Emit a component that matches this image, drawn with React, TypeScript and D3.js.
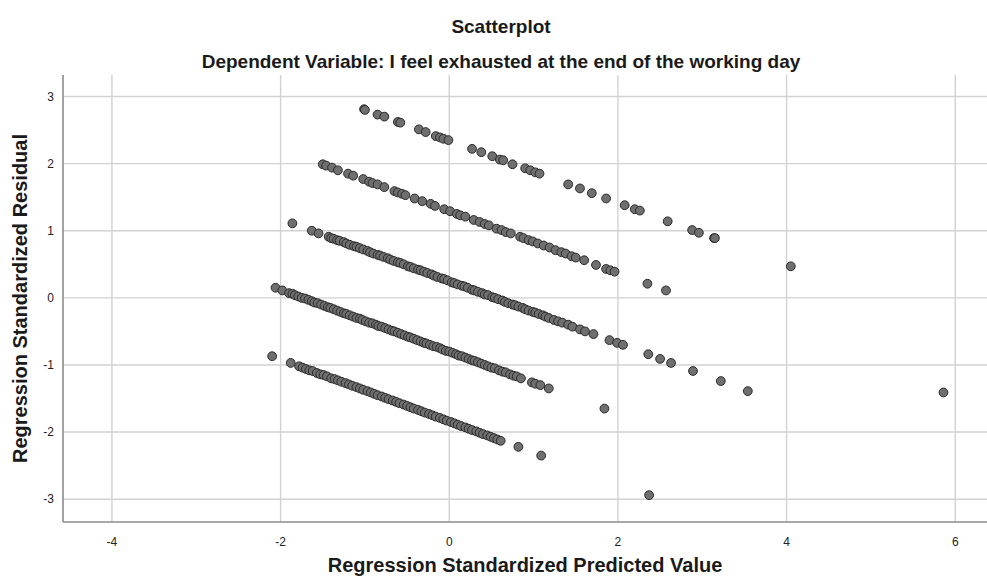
import React from 'react';
import * as d3 from 'd3';

const title = 'Scatterplot';
const subtitle = 'Dependent Variable: I feel exhausted at the end of the working day';
const xLabel = 'Regression Standardized Predicted Value';
const yLabel = 'Regression Standardized Residual';

const xTicks = [-4, -2, 0, 2, 4, 6];
const yTicks = [-3, -2, -1, 0, 1, 2, 3];

// one band per observed response value: [standardized predicted, standardized residual]
const bandA: [number, number][] = [
  [-1.01, 2.81], [-1.0, 2.8], [-0.85, 2.73], [-0.77, 2.7], [-0.61, 2.62], [-0.58, 2.61],
  [-0.36, 2.51], [-0.28, 2.47], [-0.16, 2.41], [-0.11, 2.39], [-0.07, 2.37], [-0.01, 2.35],
  [0.27, 2.22], [0.38, 2.17], [0.51, 2.11], [0.6, 2.06], [0.64, 2.05], [0.75, 1.99],
  [0.9, 1.93], [0.96, 1.9], [1.02, 1.87], [1.07, 1.85], [1.41, 1.69], [1.55, 1.63],
  [1.69, 1.56], [1.86, 1.48], [2.08, 1.38], [2.2, 1.32], [2.26, 1.3], [2.59, 1.14],
  [2.88, 1.01], [2.96, 0.97], [3.14, 0.89], [3.15, 0.89], [4.05, 0.47],
];

const bandB: [number, number][] = [
  [-1.5, 1.99], [-1.46, 1.97], [-1.39, 1.94], [-1.32, 1.9], [-1.2, 1.85], [-1.14, 1.82],
  [-1.02, 1.77], [-0.95, 1.73], [-0.91, 1.71], [-0.85, 1.69], [-0.77, 1.65], [-0.65, 1.59],
  [-0.61, 1.57], [-0.56, 1.55], [-0.52, 1.53], [-0.41, 1.48], [-0.32, 1.44], [-0.22, 1.4],
  [-0.17, 1.37], [-0.06, 1.32], [0.01, 1.29], [0.09, 1.25], [0.13, 1.23], [0.19, 1.21],
  [0.29, 1.16], [0.36, 1.13], [0.42, 1.1], [0.47, 1.08], [0.56, 1.03], [0.62, 1.01],
  [0.67, 0.98], [0.73, 0.96], [0.84, 0.91], [0.88, 0.89], [0.94, 0.86], [0.99, 0.84],
  [1.05, 0.81], [1.12, 0.78], [1.19, 0.75], [1.26, 0.71], [1.33, 0.68], [1.38, 0.66],
  [1.45, 0.62], [1.5, 0.6], [1.6, 0.56], [1.74, 0.49], [1.86, 0.43], [1.91, 0.41],
  [1.96, 0.39], [2.35, 0.21], [2.57, 0.11], [5.86, -1.41],
];

const bandC: [number, number][] = [
  [-1.86, 1.11], [-1.63, 1.0], [-1.55, 0.96], [-1.43, 0.91], [-1.4, 0.89], [-1.37, 0.88],
  [-1.33, 0.86], [-1.3, 0.85], [-1.25, 0.83], [-1.22, 0.81], [-1.18, 0.79], [-1.13, 0.77],
  [-1.1, 0.76], [-1.06, 0.74], [-1.02, 0.72], [-0.97, 0.7], [-0.94, 0.68], [-0.9, 0.66],
  [-0.85, 0.64], [-0.82, 0.63], [-0.78, 0.61], [-0.73, 0.59], [-0.7, 0.57], [-0.66, 0.55],
  [-0.61, 0.53], [-0.58, 0.52], [-0.54, 0.5], [-0.49, 0.47], [-0.46, 0.46], [-0.42, 0.44],
  [-0.37, 0.42], [-0.34, 0.41], [-0.3, 0.39], [-0.26, 0.37], [-0.21, 0.35], [-0.18, 0.33],
  [-0.14, 0.31], [-0.09, 0.29], [-0.06, 0.28], [-0.02, 0.26], [0.03, 0.23], [0.06, 0.22],
  [0.1, 0.2], [0.15, 0.18], [0.18, 0.17], [0.22, 0.15], [0.27, 0.12], [0.3, 0.11],
  [0.34, 0.09], [0.39, 0.07], [0.42, 0.05], [0.46, 0.04], [0.51, 0.01], [0.54, 0.0],
  [0.58, -0.02], [0.63, -0.04], [0.66, -0.06], [0.7, -0.08], [0.75, -0.1], [0.78, -0.11],
  [0.82, -0.13], [0.87, -0.15], [0.9, -0.17], [0.94, -0.19], [0.99, -0.21], [1.02, -0.22],
  [1.06, -0.24], [1.11, -0.26], [1.14, -0.28], [1.18, -0.3], [1.24, -0.33], [1.29, -0.35],
  [1.34, -0.37], [1.41, -0.4], [1.46, -0.43], [1.55, -0.47], [1.61, -0.5], [1.71, -0.54],
  [1.9, -0.63], [1.99, -0.67], [2.06, -0.7], [2.36, -0.84], [2.5, -0.91], [2.63, -0.97],
  [2.89, -1.09], [3.22, -1.24], [3.54, -1.39],
];

const bandD: [number, number][] = [
  [-2.06, 0.15], [-1.98, 0.11], [-1.9, 0.07], [-1.86, 0.06], [-1.83, 0.04], [-1.79, 0.02],
  [-1.75, 0.0], [-1.71, -0.01], [-1.67, -0.03], [-1.63, -0.05], [-1.6, -0.07], [-1.56, -0.08],
  [-1.52, -0.1], [-1.48, -0.12], [-1.44, -0.14], [-1.41, -0.15], [-1.37, -0.17], [-1.33, -0.19],
  [-1.29, -0.21], [-1.25, -0.23], [-1.22, -0.24], [-1.18, -0.26], [-1.14, -0.28], [-1.1, -0.3],
  [-1.06, -0.31], [-1.03, -0.33], [-0.99, -0.35], [-0.95, -0.37], [-0.91, -0.38], [-0.87, -0.4],
  [-0.84, -0.42], [-0.8, -0.43], [-0.76, -0.45], [-0.72, -0.47], [-0.68, -0.49], [-0.65, -0.5],
  [-0.61, -0.52], [-0.57, -0.54], [-0.53, -0.56], [-0.49, -0.58], [-0.46, -0.59], [-0.42, -0.61],
  [-0.38, -0.63], [-0.34, -0.65], [-0.3, -0.67], [-0.27, -0.68], [-0.23, -0.7], [-0.19, -0.72],
  [-0.15, -0.73], [-0.11, -0.75], [-0.08, -0.77], [-0.04, -0.79], [0.0, -0.8], [0.04, -0.82],
  [0.08, -0.84], [0.11, -0.86], [0.15, -0.87], [0.19, -0.89], [0.23, -0.91], [0.27, -0.93],
  [0.3, -0.94], [0.34, -0.96], [0.38, -0.98], [0.42, -1.0], [0.46, -1.02], [0.5, -1.04],
  [0.54, -1.05], [0.59, -1.08], [0.63, -1.1], [0.67, -1.11], [0.72, -1.14], [0.76, -1.16],
  [0.8, -1.17], [0.85, -1.2], [0.98, -1.26], [1.02, -1.28], [1.08, -1.3], [1.18, -1.35],
  [1.84, -1.65],
];

const bandE: [number, number][] = [
  [-2.1, -0.87], [-1.88, -0.97], [-1.78, -1.02], [-1.74, -1.04], [-1.7, -1.06], [-1.66, -1.08],
  [-1.62, -1.09], [-1.57, -1.12], [-1.53, -1.14], [-1.49, -1.15], [-1.45, -1.17], [-1.4, -1.2],
  [-1.36, -1.21], [-1.32, -1.23], [-1.28, -1.25], [-1.23, -1.27], [-1.19, -1.29], [-1.15, -1.31],
  [-1.1, -1.33], [-1.06, -1.35], [-1.02, -1.37], [-0.97, -1.39], [-0.93, -1.41], [-0.89, -1.43],
  [-0.85, -1.45], [-0.8, -1.47], [-0.76, -1.49], [-0.72, -1.51], [-0.67, -1.53], [-0.63, -1.55],
  [-0.59, -1.57], [-0.54, -1.59], [-0.5, -1.61], [-0.46, -1.63], [-0.42, -1.65], [-0.37, -1.67],
  [-0.33, -1.69], [-0.29, -1.71], [-0.24, -1.73], [-0.2, -1.75], [-0.16, -1.77], [-0.11, -1.79],
  [-0.07, -1.81], [-0.03, -1.83], [0.02, -1.85], [0.06, -1.87], [0.1, -1.89], [0.14, -1.91],
  [0.19, -1.93], [0.23, -1.95], [0.27, -1.97], [0.32, -1.99], [0.36, -2.01], [0.4, -2.03],
  [0.45, -2.05], [0.49, -2.07], [0.53, -2.09], [0.57, -2.11], [0.61, -2.13], [0.82, -2.22],
  [1.09, -2.35], [2.37, -2.94],
];

const W = 987;
const H = 578;
const FONT = "Arial, 'Liberation Sans', sans-serif";

const App: React.FC = () => {
  const left = 63;
  const right = 987;
  const top = 75;
  const bottom = 522;

  const x = d3.scaleLinear().domain([-4.58, 6.4]).range([left, right + 2]);
  const y = d3.scaleLinear().domain([-3.34, 3.32]).range([bottom, top]);

  const points = [...bandA, ...bandB, ...bandC, ...bandD, ...bandE];

  return (
    <svg
      width={W}
      height={H}
      style={{ position: 'absolute', left: 0, top: 0, display: 'block', background: '#fff' }}
      fontFamily={FONT}
    >
      <text x={501} y={33} textAnchor="middle" fontSize={19} fontWeight="bold" fill="#1a1a1a">
        {title}
      </text>
      <text x={501} y={68} textAnchor="middle" fontSize={19} fontWeight="bold" fill="#1a1a1a">
        {subtitle}
      </text>

      {/* grid */}
      <g stroke="#d2d2d2" strokeWidth={1.4}>
        {yTicks.map((t) => (
          <line key={'gy' + t} x1={left} x2={right} y1={y(t)} y2={y(t)} />
        ))}
        {xTicks.map((t) => (
          <line key={'gx' + t} x1={x(t)} x2={x(t)} y1={top} y2={bottom} />
        ))}
      </g>

      {/* axes */}
      <g stroke="#8c8c8c" strokeWidth={1.6}>
        <line x1={left} x2={left} y1={top} y2={bottom} />
        <line x1={left} x2={right} y1={bottom} y2={bottom} />
      </g>

      <g fontSize={12} fill="#222">
        {yTicks.map((t) => (
          <text key={'ty' + t} x={54} y={y(t)} dy="0.35em" textAnchor="end">
            {t}
          </text>
        ))}
        {xTicks.map((t) => (
          <text key={'tx' + t} x={x(t)} y={546} textAnchor="middle">
            {t}
          </text>
        ))}
      </g>

      <g fill="#6f6f6f" stroke="#2a2a2a" strokeWidth={1}>
        {points.map((p, i) => (
          <circle key={i} cx={x(p[0])} cy={y(p[1])} r={4.4} />
        ))}
      </g>

      <text x={525} y={572} textAnchor="middle" fontSize={20} fontWeight="bold" fill="#1a1a1a">
        {xLabel}
      </text>
      <text
        transform={`translate(27, ${(top + bottom) / 2}) rotate(-90)`}
        textAnchor="middle"
        fontSize={20}
        fontWeight="bold"
        fill="#1a1a1a"
      >
        {yLabel}
      </text>
    </svg>
  );
};

export default App;
